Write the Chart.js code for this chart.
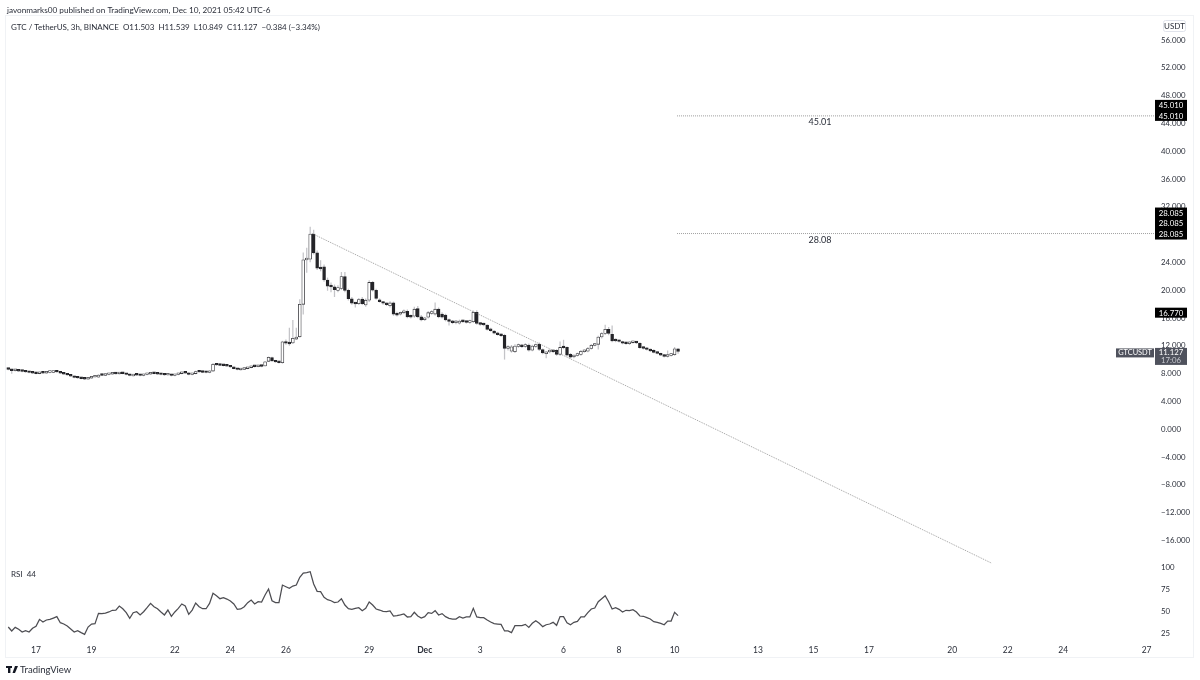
<!DOCTYPE html>
<html>
<head>
<meta charset="utf-8">
<title>GTCUSDT</title>
<script src="https://cdn.jsdelivr.net/npm/chart.js@4"></script>
<style>
  html, body { margin: 0; padding: 0; background: #fff; }
  canvas { display: block; }
</style>
</head>
<body>
<canvas id="gtcChart" width="1200" height="680"></canvas>
<script>
// 3h bars, numbered from Nov 17 00:00 (bar 0)
const firstBar = -8;

const opens = [
  8.60, 8.50, 8.35, 8.42, 8.30, 8.24, 8.16, 8.09, 8.01, 7.94,
  8.09, 8.01, 8.11, 8.10, 8.20, 8.16, 8.01, 7.87, 7.73, 7.58,
  7.40, 7.30, 7.22, 7.15, 7.29, 7.44, 7.42, 7.73, 7.69, 7.80,
  7.87, 7.94, 7.90, 8.01, 7.94, 7.80, 7.60, 7.75, 7.70, 7.66,
  7.80, 7.87, 8.01, 7.94, 7.87, 7.80, 7.73, 7.80, 7.66, 7.80,
  7.94, 8.09, 8.01, 7.80, 7.94, 8.24, 8.16, 8.11, 8.09, 8.30,
  9.27, 9.17, 9.12, 9.08, 9.02, 8.88, 8.66, 8.48, 8.55, 8.66,
  8.80, 8.98, 8.92, 9.05, 9.05, 9.70, 10.25, 9.75, 9.60, 9.50,
  12.50, 12.30, 12.35, 12.90, 13.25, 17.90, 24.30, 24.40, 28.00, 25.30,
  23.15, 23.30, 21.40, 20.50, 20.40, 19.90, 20.20, 21.90, 19.90, 18.70,
  18.05, 18.00, 18.65, 17.80, 18.50, 21.05, 19.90, 18.50, 18.20, 18.00,
  17.70, 18.10, 16.55, 16.50, 16.70, 16.90, 16.25, 16.20, 17.30, 16.10,
  15.70, 16.05, 16.60, 16.50, 17.20, 16.50, 16.35, 15.65, 15.45, 15.25,
  15.20, 15.50, 15.40, 15.30, 15.40, 16.75, 15.17, 15.05, 14.90, 14.35,
  14.05, 13.80, 13.55, 13.45, 11.55, 11.15, 11.10, 11.85, 12.00, 11.85,
  12.05, 11.30, 11.85, 12.15, 11.40, 10.80, 11.05, 11.20, 11.30, 10.70,
  11.80, 11.70, 10.70, 10.35, 10.55, 10.70, 11.10, 11.15, 11.55, 12.00,
  12.15, 13.20, 13.70, 14.30, 13.60, 12.80, 12.70, 12.50, 12.35, 12.25,
  12.40, 12.45, 12.30, 11.70, 11.60, 11.40, 11.30, 11.00, 10.80, 10.60,
  10.40, 10.55, 10.65, 11.503
];
const highs = [
  8.68, 8.55, 8.48, 8.46, 8.34, 8.30, 8.22, 8.13, 8.06, 8.14,
  8.14, 8.15, 8.20, 8.22, 8.24, 8.20, 8.05, 7.92, 7.77, 7.62,
  7.46, 7.36, 7.26, 7.34, 7.48, 7.56, 7.80, 7.78, 7.85, 7.92,
  7.98, 7.99, 8.06, 8.06, 7.98, 7.84, 7.80, 7.80, 7.76, 7.86,
  7.92, 8.06, 8.06, 7.98, 7.91, 7.84, 7.85, 7.84, 7.84, 7.98,
  8.14, 8.14, 8.05, 7.98, 8.30, 8.28, 8.20, 8.16, 8.36, 9.40,
  9.32, 9.22, 9.16, 9.12, 9.06, 8.92, 8.70, 8.60, 8.70, 8.84,
  9.00, 9.04, 9.08, 9.10, 9.70, 10.35, 10.32, 9.85, 9.66, 12.60,
  12.80, 14.50, 15.60, 14.50, 18.60, 25.30, 26.00, 29.00, 28.60, 25.60,
  24.20, 23.60, 21.70, 21.00, 20.70, 20.60, 22.50, 22.50, 20.10, 18.90,
  18.20, 18.75, 18.90, 18.70, 21.30, 21.20, 20.10, 18.70, 18.30, 18.10,
  18.30, 18.25, 16.80, 16.80, 17.10, 17.10, 16.40, 17.50, 17.60, 16.30,
  16.00, 16.90, 17.00, 18.10, 17.40, 16.70, 16.50, 15.80, 15.60, 15.55,
  15.65, 15.65, 15.50, 15.65, 16.95, 17.00, 15.30, 15.20, 15.00, 14.50,
  14.15, 13.90, 13.65, 13.60, 11.95, 12.00, 12.10, 12.20, 12.15, 12.25,
  12.20, 12.05, 12.20, 12.35, 11.50, 11.10, 11.35, 11.35, 11.40, 12.50,
  12.75, 11.80, 10.85, 10.65, 10.90, 11.30, 11.35, 11.70, 12.15, 12.30,
  13.35, 13.85, 14.90, 14.60, 14.80, 12.95, 12.80, 12.60, 12.45, 12.50,
  12.60, 12.55, 12.40, 11.80, 11.70, 11.50, 11.40, 11.10, 10.90, 10.70,
  11.20, 10.85, 11.70, 11.539
];
const lows = [
  8.45, 7.95, 8.30, 8.25, 8.18, 8.10, 8.03, 7.96, 7.88, 7.90,
  7.96, 7.97, 8.05, 8.06, 8.12, 7.96, 7.82, 7.68, 7.53, 7.32,
  7.25, 7.18, 7.08, 7.10, 7.24, 7.38, 7.38, 7.64, 7.64, 7.75,
  7.82, 7.86, 7.85, 7.90, 7.75, 7.60, 7.55, 7.66, 7.60, 7.60,
  7.75, 7.82, 7.88, 7.82, 7.75, 7.68, 7.68, 7.60, 7.60, 7.75,
  7.90, 7.96, 7.75, 7.75, 7.90, 8.10, 8.06, 8.04, 8.04, 8.25,
  9.10, 9.06, 9.02, 8.96, 8.82, 8.60, 8.46, 8.42, 8.50, 8.62,
  8.76, 8.86, 8.88, 8.90, 9.00, 9.65, 9.70, 9.55, 9.45, 9.40,
  12.15, 12.00, 12.25, 12.80, 13.15, 16.50, 22.50, 24.00, 25.10, 22.90,
  22.70, 21.20, 19.90, 19.70, 19.00, 19.70, 20.00, 19.70, 18.50, 17.90,
  17.50, 17.85, 17.85, 17.60, 18.30, 19.80, 18.60, 18.20, 17.90, 17.70,
  17.50, 16.30, 16.20, 16.35, 16.55, 15.95, 15.90, 16.00, 15.95, 15.50,
  15.55, 15.90, 16.45, 16.35, 15.95, 15.90, 15.50, 14.90, 15.10, 15.10,
  15.05, 15.25, 15.20, 15.15, 15.25, 15.00, 14.85, 14.80, 14.20, 14.00,
  13.65, 13.45, 13.25, 10.00, 11.30, 11.00, 10.95, 11.70, 11.65, 11.70,
  11.15, 11.20, 11.70, 11.25, 10.75, 10.20, 10.90, 10.95, 10.55, 10.55,
  11.50, 10.45, 10.15, 10.20, 10.45, 10.55, 11.00, 11.05, 11.45, 11.90,
  11.45, 13.05, 13.55, 13.50, 12.50, 12.50, 12.45, 12.20, 12.15, 12.10,
  12.30, 12.25, 11.55, 11.45, 11.30, 11.10, 10.90, 10.75, 10.50, 10.30,
  10.30, 10.45, 10.55, 10.849
];
const closes = [
  8.53, 8.37, 8.44, 8.30, 8.24, 8.16, 8.09, 8.01, 7.94, 8.09,
  8.01, 8.11, 8.16, 8.16, 8.16, 8.01, 7.87, 7.73, 7.58, 7.37,
  7.30, 7.22, 7.15, 7.29, 7.44, 7.51, 7.73, 7.69, 7.80, 7.87,
  7.94, 7.90, 8.01, 7.94, 7.80, 7.66, 7.73, 7.70, 7.66, 7.80,
  7.87, 8.01, 7.94, 7.87, 7.80, 7.73, 7.80, 7.66, 7.80, 7.94,
  8.09, 8.01, 7.80, 7.94, 8.24, 8.16, 8.11, 8.09, 8.30, 9.27,
  9.17, 9.12, 9.08, 9.02, 8.88, 8.66, 8.52, 8.55, 8.66, 8.80,
  8.95, 8.92, 9.02, 8.98, 9.63, 10.27, 9.75, 9.60, 9.50, 12.50,
  12.30, 12.20, 13.00, 13.20, 17.90, 24.30, 24.50, 28.00, 25.30, 23.10,
  23.00, 21.40, 20.50, 20.40, 20.00, 20.30, 21.90, 19.90, 18.70, 18.05,
  17.95, 18.60, 18.00, 18.50, 21.05, 19.95, 18.75, 18.30, 18.05, 17.85,
  18.10, 16.50, 16.35, 16.70, 16.90, 16.10, 16.05, 17.20, 16.10, 15.65,
  15.85, 16.70, 16.80, 17.20, 16.10, 16.05, 15.65, 15.45, 15.25, 15.40,
  15.50, 15.40, 15.30, 15.50, 16.75, 15.17, 15.00, 14.95, 14.30, 14.10,
  13.75, 13.55, 13.40, 11.55, 11.75, 11.80, 11.90, 12.00, 11.80, 12.05,
  11.30, 11.90, 12.05, 11.40, 10.90, 10.95, 11.20, 11.10, 10.70, 11.70,
  11.65, 10.60, 10.30, 10.50, 10.75, 11.15, 11.20, 11.55, 12.00, 12.15,
  13.20, 13.70, 14.30, 13.70, 12.65, 12.65, 12.55, 12.30, 12.25, 12.40,
  12.50, 12.35, 11.65, 11.55, 11.40, 11.20, 11.00, 10.85, 10.60, 10.40,
  10.60, 10.70, 11.511, 11.127
];
const rsiValues = [
  31.8, 27.3, 31.4, 29.2, 26.1, 27.6, 26.1, 30.3, 32.6, 40.5,
  37.5, 39.8, 40.5, 42.0, 43.6, 36.7, 35.2, 33.0, 29.5, 26.1,
  27.6, 25.4, 23.5, 31.8, 35.2, 35.6, 47.3, 47.0, 47.7, 48.9,
  50.8, 51.1, 55.7, 52.6, 48.1, 41.7, 48.1, 49.2, 45.5, 49.2,
  53.8, 58.7, 54.9, 52.6, 48.9, 45.5, 51.1, 43.9, 48.9, 53.0,
  58.0, 55.7, 46.2, 51.1, 59.1, 54.9, 52.6, 52.6, 58.7, 70.1,
  67.4, 64.0, 65.1, 63.6, 61.4, 58.0, 51.9, 52.3, 54.9, 59.5,
  62.5, 58.0, 60.6, 60.2, 68.2, 75.0, 61.7, 59.5, 59.5, 79.5,
  77.6, 75.8, 78.4, 79.5, 88.3, 93.2, 93.6, 94.7, 80.7, 72.3,
  72.0, 65.5, 62.9, 61.7, 59.5, 60.2, 64.0, 56.8, 52.6, 51.9,
  53.0, 53.8, 50.4, 53.0, 60.2, 56.8, 52.3, 51.1, 49.6, 49.2,
  50.0, 44.3, 44.7, 45.5, 46.6, 43.2, 43.6, 48.5, 44.3, 42.0,
  43.6, 48.1, 47.3, 50.4, 45.5, 47.0, 43.6, 41.7, 40.9, 40.9,
  43.6, 42.0, 43.2, 43.2, 53.0, 43.2, 42.4, 42.4, 39.8, 37.5,
  35.6, 35.2, 34.8, 27.3, 27.3, 25.4, 33.3, 33.3, 33.3, 34.8,
  31.4, 36.0, 39.0, 36.0, 32.2, 34.4, 35.2, 37.1, 33.7, 43.6,
  43.6, 36.7, 34.4, 37.1, 38.2, 43.2, 43.2, 48.1, 52.3, 53.4,
  60.6, 64.0, 67.4, 60.6, 52.3, 53.8, 51.9, 48.9, 50.8, 50.4,
  51.5, 48.9, 44.3, 44.0, 42.4, 40.9, 37.9, 37.1, 36.0, 34.4,
  38.6, 38.6, 48.5, 44.7
];

// axis labels
const dayTicks = [0, 16, 40, 56, 72, 96, 112, 128, 152, 168, 184, 208, 224, 240, 264, 280, 296, 320];
const dayLabels = ['17', '19', '22', '24', '26', '29', 'Dec', '3', '6', '8', '10', '13', '15', '17', '20', '22', '24', '27'];
const priceTicks = [56, 52, 48, 44, 40, 36, 32, 28, 24, 20, 16, 12, 8, 4, 0, -4, -8, -12, -16];
const rsiTicks = [100, 75, 50, 25];

// drawn levels and the falling trend line (bar number, price)
const levelStart = 184.7;
const levelEnd = 323;
const upperLevel = 45.01;
const lowerLevel = 28.085;
const trendBars = [79.5, 275.2];
const trendPrices = [28.1, -19.3];

const FONT = 'Lato, sans-serif';
const TEXT = '#2a2e39';
const UP_LINE = '#3c3c40';
const DOWN = '#242428';
const SLATE = '#4f525d';

const barNumbers = closes.map((c, i) => firstBar + i);

function linePoints(xs, ys) {
  return xs.map((x, i) => ({ x: x, y: ys[i] }));
}

// text, frame and price tags that sit on top of the chart
const overlayPlugin = {
  id: 'overlay',
  beforeDraw(chart) {
    const ctx = chart.ctx;
    ctx.save();
    ctx.strokeStyle = '#f0f2f5';
    ctx.lineWidth = 1;
    ctx.strokeRect(5.5, 15.5, 1188, 642);
    ctx.restore();
  },
  afterDraw(chart) {
    const ctx = chart.ctx;
    const y = chart.scales.y;
    ctx.save();
    ctx.textBaseline = 'middle';

    ctx.fillStyle = TEXT;
    ctx.font = '8.2px ' + FONT;
    ctx.fillText('javonmarks00 published on TradingView.com, Dec 10, 2021 05:42 UTC-6', 7, 10.5);
    ctx.font = '8px ' + FONT;
    ctx.fillText('GTC / TetherUS, 3h, BINANCE  O11.503  H11.539  L10.849  C11.127  \u22120.384 (\u22123.34%)', 11, 27.5);
    ctx.fillText('RSI  44', 11, 574.5);

    // level captions
    ctx.font = '9px ' + FONT;
    ctx.textAlign = 'center';
    ctx.fillText('45.01', 820, y.getPixelForValue(upperLevel) + 6);
    ctx.fillText('28.08', 820, y.getPixelForValue(lowerLevel) + 7);

    // currency box
    ctx.strokeStyle = '#e0e3eb';
    ctx.fillStyle = '#fff';
    ctx.beginPath();
    ctx.roundRect(1163.5, 20.5, 22, 11, 2);
    ctx.fill();
    ctx.stroke();
    ctx.fillStyle = TEXT;
    ctx.font = '8px ' + FONT;
    ctx.fillText('USDT', 1174.5, 26.5);

    // black price tags
    const tag = (top, h, rows, fill) => {
      ctx.fillStyle = fill;
      ctx.fillRect(1155, top, 32, h);
      rows.forEach(r => {
        ctx.fillStyle = r.color || '#fff';
        ctx.font = '7.8px ' + FONT;
        ctx.fillText(r.text, 1171, r.y);
      });
    };
    const up = y.getPixelForValue(upperLevel);
    const low = y.getPixelForValue(lowerLevel);
    const mid = y.getPixelForValue(16.77);
    const last = y.getPixelForValue(closes[closes.length - 1]);
    const upText = upperLevel.toFixed(3);
    const lowText = lowerLevel.toFixed(3);
    tag(up - 16, 21, [{ text: upText, y: up - 10.5 }, { text: upText, y: up + 0.5 }], '#000');
    tag(low - 26, 32, [{ text: lowText, y: low - 20 }, { text: lowText, y: low - 10 }, { text: lowText, y: low + 0.5 }], '#000');
    tag(mid - 4.5, 10, [{ text: (16.77).toFixed(3), y: mid + 1 }], '#000');
    tag(last - 3.5, 17, [
      { text: closes[closes.length - 1].toFixed(3), y: last + 1.5 },
      { text: '17:06', y: last + 9.5, color: '#c8cad0' }
    ], SLATE);
    ctx.fillStyle = SLATE;
    ctx.fillRect(1116, last - 3, 38, 9);
    ctx.fillStyle = '#fff';
    ctx.font = '7.4px ' + FONT;
    ctx.fillText('GTCUSDT', 1135, last + 1.5);

    // TradingView mark and name
    ctx.fillStyle = '#131722';
    ctx.fillRect(6, 666, 6, 2);
    ctx.fillRect(8, 668, 2.4, 5);
    ctx.beginPath();
    ctx.moveTo(12.5, 673);
    ctx.lineTo(15, 666);
    ctx.lineTo(18, 666);
    ctx.lineTo(15, 673);
    ctx.closePath();
    ctx.fill();
    ctx.textAlign = 'left';
    ctx.font = '9.5px ' + FONT;
    ctx.fillStyle = '#2a2e39';
    ctx.fillText('TradingView', 20, 669.5);
    ctx.restore();
  }
};

new Chart(document.getElementById('gtcChart').getContext('2d'), {
  type: 'bar',
  plugins: [overlayPlugin],
  data: {
    datasets: [
      {
        label: 'RSI',
        type: 'line',
        yAxisID: 'rsi',
        data: linePoints(barNumbers, rsiValues),
        borderColor: '#4d4d52',
        borderWidth: 1.25,
        pointRadius: 0,
        tension: 0
      },
      {
        label: 'Upper level',
        type: 'line',
        data: linePoints([levelStart, levelEnd], [upperLevel, upperLevel]),
        borderColor: '#777',
        borderWidth: 0.7,
        borderDash: [1, 1],
        pointRadius: 0
      },
      {
        label: 'Lower level',
        type: 'line',
        data: linePoints([levelStart, levelEnd], [lowerLevel, lowerLevel]),
        borderColor: '#777',
        borderWidth: 0.7,
        borderDash: [1, 1],
        pointRadius: 0
      },
      {
        label: 'Trend',
        type: 'line',
        data: linePoints(trendBars, trendPrices),
        borderColor: '#777',
        borderWidth: 0.7,
        borderDash: [1, 1],
        pointRadius: 0
      },
      {
        label: 'Bodies',
        data: barNumbers.map((x, i) => ({ x: x, y: [opens[i], closes[i]] })),
        grouped: false,
        barThickness: 2.9,
        minBarLength: 1.8,
        borderSkipped: false,
        borderWidth: 0.8,
        backgroundColor: closes.map((c, i) => c >= opens[i] ? '#fff' : DOWN),
        borderColor: closes.map((c, i) => c >= opens[i] ? UP_LINE : DOWN)
      },
      {
        label: 'Wicks',
        data: barNumbers.map((x, i) => ({ x: x, y: [lows[i], highs[i]] })),
        grouped: false,
        barThickness: 0.6,
        backgroundColor: '#c4c4c8'
      }
    ]
  },
  options: {
    responsive: false,
    animation: false,
    layout: { padding: { left: 6, top: 16, right: 0, bottom: 0 } },
    plugins: {
      legend: { display: false },
      tooltip: { enabled: false }
    },
    scales: {
      x: {
        type: 'linear',
        position: 'bottom',
        min: -8.65,
        max: 323,
        offset: false,
        grid: { display: false, drawTicks: false },
        border: { display: false },
        afterBuildTicks: scale => { scale.ticks = dayTicks.map(v => ({ value: v })); },
        afterFit: scale => { scale.height = 39; },
        ticks: {
          autoSkip: false,
          maxRotation: 0,
          padding: 4,
          color: TEXT,
          font: c => ({ family: FONT, size: 8.5, weight: c.tick && c.tick.value === 112 ? '700' : '400' }),
          callback: v => dayLabels[dayTicks.indexOf(v)]
        }
      },
      y: {
        position: 'right',
        stack: 'panes',
        stackWeight: 549,
        min: -19.6,
        max: 59.38,
        grid: { display: false, drawTicks: false },
        border: { display: false },
        afterBuildTicks: scale => { scale.ticks = priceTicks.map(v => ({ value: v })); },
        afterFit: scale => { scale.width = 43; },
        ticks: {
          autoSkip: false,
          padding: 4,
          labelOffset: 0.5,
          color: TEXT,
          font: { family: FONT, size: 7.8 },
          callback: v => (v < 0 ? '\u2212' : '') + Math.abs(v).toFixed(3)
        }
      },
      rsi: {
        position: 'right',
        stack: 'panes',
        stackWeight: 76,
        min: 15.9,
        max: 102.3,
        grid: { display: false, drawTicks: false },
        border: { display: false },
        afterBuildTicks: scale => { scale.ticks = rsiTicks.map(v => ({ value: v })); },
        afterFit: scale => { scale.width = 43; },
        ticks: {
          autoSkip: false,
          padding: 4,
          labelOffset: 0.5,
          color: TEXT,
          font: { family: FONT, size: 7.8 }
        }
      }
    }
  }
});
</script>
</body>
</html>
